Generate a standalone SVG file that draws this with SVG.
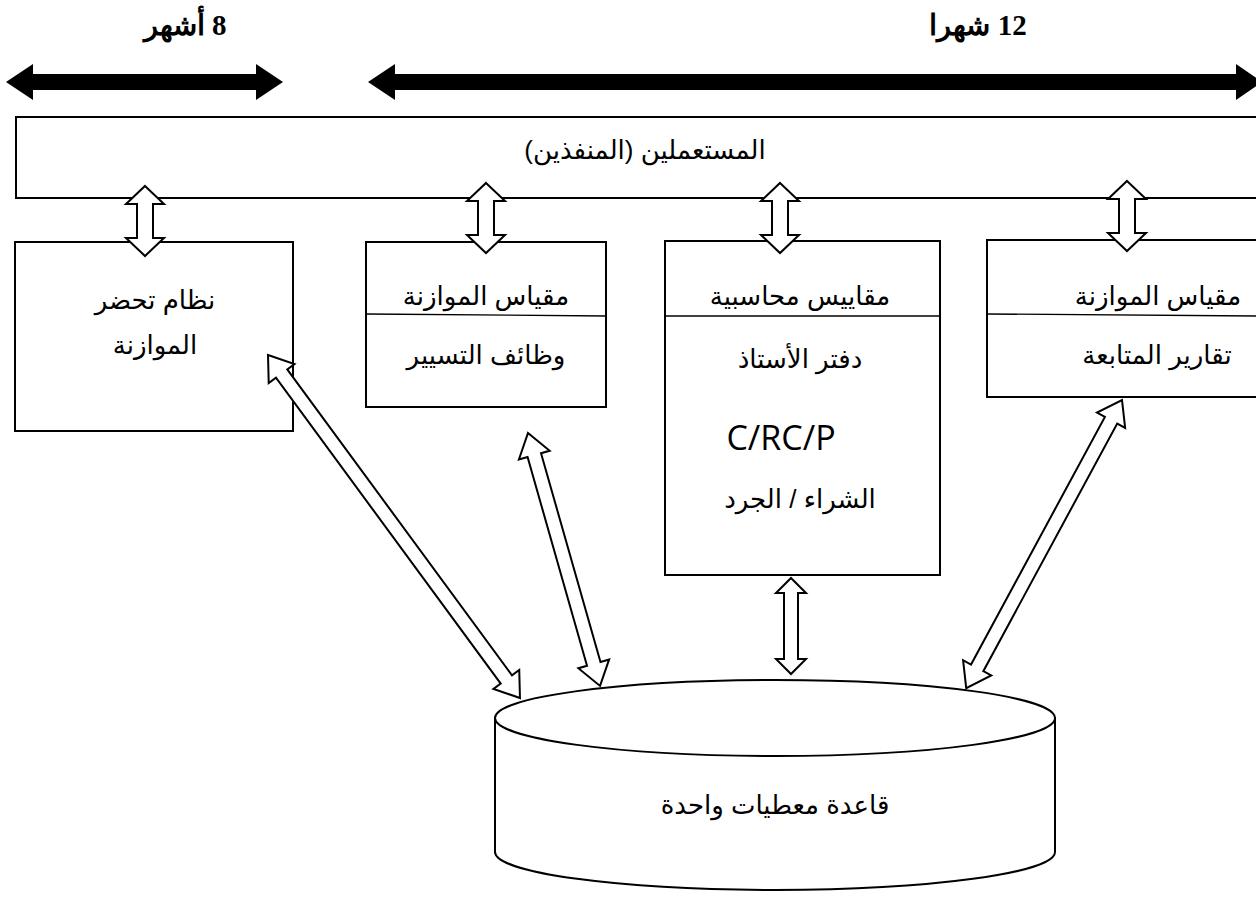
<svg xmlns="http://www.w3.org/2000/svg" width="1256" height="902" viewBox="0 0 1256 902">
<style>
.box{fill:#fff;stroke:#000;stroke-width:2}
.div{stroke:#000;stroke-width:1.3}
.ha{fill:#fff;stroke:#000;stroke-width:2;stroke-linejoin:miter}
.ba{fill:#000}
.t{font-family:"Liberation Sans","DejaVu Sans",sans-serif;font-size:26px;fill:#000;text-anchor:middle;direction:rtl}
.h{font-family:"Liberation Serif","DejaVu Serif",serif;font-size:29px;font-weight:bold;fill:#000;text-anchor:middle;direction:rtl}
.lat{font-family:"Open Sans","Noto Sans",sans-serif;font-size:34px;fill:#000;text-anchor:middle}
</style>
<rect width="1256" height="902" fill="#fff"/>
<g id="timeline">
<polygon class="ba" points="6,82 33,64 33,74 256,74 256,64 283,82 256,100 256,90 33,90 33,100"/>
<polygon class="ba" points="368,82 395,64 395,74 1236,74 1236,64 1262,82 1236,100 1236,90 395,90 395,100"/>
<text class="h" x="185" y="35">8 أشهر</text>
<text class="h" x="978" y="35">12 شهرا</text>
</g>
<g id="users">
<rect class="box" x="16" y="117" width="1250" height="81"/>
<text class="t" x="645" y="159">المستعملين (المنفذين)</text>
</g>
<g id="box1">
<rect class="box" x="15" y="242" width="278" height="189"/>
<text class="t" x="155" y="309">نظام تحضر</text>
<text class="t" x="155" y="354">الموازنة</text>
</g>
<g id="box2">
<rect class="box" x="366" y="242" width="240" height="165"/>
<line class="div" x1="366" y1="314" x2="606" y2="316"/>
<text class="t" x="486" y="305">مقياس الموازنة</text>
<text class="t" x="486" y="364">وظائف التسيير</text>
</g>
<g id="box3">
<rect class="box" x="665" y="241" width="275" height="334"/>
<line class="div" x1="665" y1="316" x2="940" y2="316"/>
<text class="t" x="800" y="305">مقاييس محاسبية</text>
<text class="t" x="800" y="368">دفتر الأستاذ</text>
<text class="lat" x="781" y="450">C/RC/P</text>
<text class="t" x="800" y="508">الشراء / الجرد</text>
</g>
<g id="box4">
<rect class="box" x="987" y="240" width="280" height="157"/>
<line class="div" x1="987" y1="314" x2="1256" y2="316"/>
<text class="t" x="1158" y="305">مقياس الموازنة</text>
<text class="t" x="1157" y="364">تقارير المتابعة</text>
</g>
<g id="database">
<path class="box" d="M495,718 L495,852 A280,38 0 0 0 1055,852 L1055,718 Z"/>
<ellipse class="box" cx="775" cy="718" rx="280" ry="38"/>
<text class="t" x="775" y="814">قاعدة معطيات واحدة</text>
</g>
<g id="connectors">
<polygon class="ha" points="145,186 164,204 153,204 153,238 164,238 145,256 126,238 137,238 137,204 126,204"/>
<polygon class="ha" points="486,183 505,201 494,201 494,235 505,235 486,253 467,235 478,235 478,201 467,201"/>
<polygon class="ha" points="780,183 799,201 788,201 788,235 799,235 780,253 761,235 772,235 772,201 761,201"/>
<polygon class="ha" points="1127,181 1146,199 1135,199 1135,233 1146,233 1127,251 1108,233 1119,233 1119,199 1108,199"/>
<polygon class="ha" points="791,578 806,593 798,593 798,659 806,659 791,674 776,659 784,659 784,593 776,593"/>
<polygon class="ha" transform="translate(268,355) rotate(53.7)" points="0,0 23,-16 23,-7 402.6,-7 402.6,-16 425.6,0 402.6,16 402.6,7 23,7 23,16"/>
<polygon class="ha" transform="translate(528,433) rotate(74.1)" points="0,0 23,-16 23,-7 240,-7 240,-16 263,0 240,16 240,7 23,7 23,16"/>
<polygon class="ha" transform="translate(1122,400) rotate(118.4)" points="0,0 23,-16 23,-7 304.5,-7 304.5,-16 327.5,0 304.5,16 304.5,7 23,7 23,16"/>
</g>
</svg>
